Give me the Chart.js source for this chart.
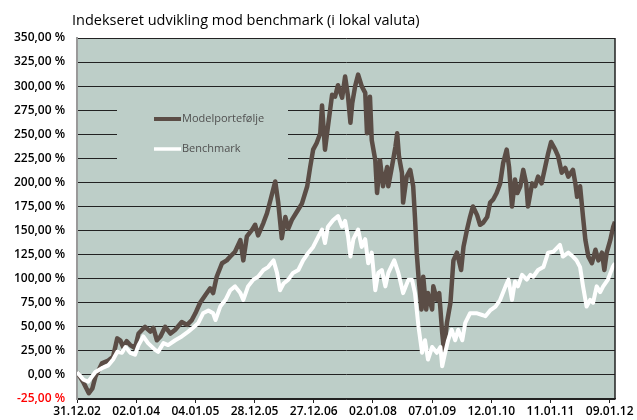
<!DOCTYPE html>
<html>
<head>
<meta charset="utf-8">
<script src="https://cdn.jsdelivr.net/npm/chart.js@4/dist/chart.umd.min.js"></script>
<style>
  body { margin: 0; background: #fff; }
  canvas { display: block; }
</style>
</head>
<body>
<canvas id="chart" width="637" height="420"></canvas>
<script>
// tick labels on the time axis (one per year)
const tickLabels = ['31.12.02', '02.01.04', '04.01.05', '28.12.05', '27.12.06',
                    '02.01.08', '07.01.09', '12.01.10', '11.01.11', '09.01.12'];

// time in years since 31.12.02, value in % (indexed)
const modelT = [0.00, 0.11, 0.20, 0.26, 0.31, 0.42, 0.53, 0.61, 0.68, 0.73, 0.78, 0.84, 0.90, 0.98,
  1.04, 1.15, 1.24, 1.29, 1.35, 1.41, 1.49, 1.58, 1.66, 1.77, 1.86, 1.94, 2.00, 2.08, 2.17, 2.25,
  2.30, 2.36, 2.45, 2.53, 2.59, 2.67, 2.76, 2.81, 2.87, 2.96, 3.01, 3.06, 3.15, 3.21, 3.27, 3.35,
  3.40, 3.46, 3.52, 3.57, 3.63, 3.72, 3.80, 3.89, 3.94, 3.99, 4.05, 4.11, 4.14, 4.19, 4.24, 4.31,
  4.36, 4.41, 4.48, 4.53, 4.58, 4.62, 4.65, 4.70, 4.75, 4.81, 4.87, 4.90, 4.95, 4.98, 5.04, 5.07,
  5.12, 5.17, 5.24, 5.26, 5.32, 5.38, 5.41, 5.44, 5.49, 5.51, 5.57, 5.63, 5.68, 5.71, 5.74, 5.77,
  5.82, 5.85, 5.90, 5.93, 6.00, 6.02, 6.08, 6.12, 6.17, 6.20, 6.25, 6.31, 6.36, 6.42, 6.49, 6.53,
  6.59, 6.64, 6.69, 6.76, 6.81, 6.86, 6.93, 6.98, 7.03, 7.09, 7.15, 7.20, 7.26, 7.30, 7.35, 7.40,
  7.44, 7.49, 7.54, 7.59, 7.62, 7.69, 7.74, 7.79, 7.85, 7.91, 7.96, 8.01, 8.08, 8.13, 8.19, 8.25,
  8.30, 8.38, 8.42, 8.45, 8.50, 8.55, 8.59, 8.64, 8.70, 8.76, 8.81, 8.87, 8.91, 8.95, 9.01, 9.06, 9.09];
const modelValues = [3, -8, -19, -14, -2, 12, 15, 19, 38, 36, 29, 35, 31, 28,
  43, 50, 45, 49, 36, 40, 50, 43, 47, 55, 52, 57, 64, 75, 83, 90,
  85, 102, 116, 119, 123, 128, 140, 119, 144, 151, 156, 145, 158, 168, 182, 201,
  179, 142, 164, 152, 161, 170, 178, 196, 216, 234, 241, 251, 280, 234, 258, 291,
  289, 301, 288, 310, 289, 262, 282, 300, 312, 300, 293, 251, 289, 244, 223, 189,
  223, 196, 216, 196, 216, 237, 251, 227, 210, 179, 206, 213, 196, 164, 127, 102,
  68, 102, 68, 85, 68, 92, 78, 85, 44, 26, 54, 75, 119, 127, 109, 133,
  151, 164, 175, 166, 156, 158, 164, 179, 182, 189, 199, 220, 234, 216, 175, 203,
  189, 196, 213, 199, 175, 199, 196, 206, 199, 216, 230, 242, 234, 227, 210, 215,
  206, 213, 199, 185, 196, 164, 140, 123, 116, 130, 119, 127, 109, 127, 140, 154, 159];

const benchT = [0.00, 0.11, 0.19, 0.25, 0.31, 0.42, 0.53, 0.61, 0.68, 0.76, 0.82, 0.90, 0.98,
  1.04, 1.12, 1.20, 1.32, 1.37, 1.46, 1.54, 1.66, 1.77, 1.88, 1.96, 2.05, 2.13, 2.22, 2.30, 2.34,
  2.42, 2.51, 2.59, 2.67, 2.76, 2.81, 2.89, 2.98, 3.06, 3.15, 3.23, 3.32, 3.38, 3.43, 3.49, 3.57,
  3.65, 3.74, 3.82, 3.91, 3.99, 4.08, 4.14, 4.19, 4.24, 4.33, 4.41, 4.48, 4.53, 4.58, 4.62, 4.67,
  4.75, 4.81, 4.87, 4.92, 4.98, 5.04, 5.09, 5.15, 5.21, 5.26, 5.36, 5.43, 5.51, 5.60, 5.66, 5.71,
  5.77, 5.83, 5.88, 5.93, 6.00, 6.08, 6.14, 6.17, 6.22, 6.27, 6.33, 6.39, 6.44, 6.51, 6.56, 6.64,
  6.76, 6.86, 6.90, 6.98, 7.07, 7.15, 7.24, 7.29, 7.35, 7.40, 7.45, 7.52, 7.60, 7.66, 7.71, 7.79,
  7.88, 7.96, 8.05, 8.16, 8.21, 8.30, 8.38, 8.44, 8.50, 8.55, 8.61, 8.67, 8.72, 8.78, 8.84, 8.89,
  8.97, 9.05, 9.09];
const benchValues = [3, -5, -7, -2, 3, 7, 10, 16, 24, 23, 29, 23, 21,
  31, 40, 33, 26, 24, 33, 31, 36, 40, 45, 49, 54, 64, 67, 64, 57,
  71, 78, 88, 92, 85, 78, 92, 99, 102, 109, 112, 119, 106, 88, 95, 99,
  106, 109, 119, 127, 133, 144, 151, 137, 154, 161, 165, 154, 160, 144, 123, 141,
  151, 133, 141, 116, 127, 88, 106, 109, 92, 106, 119, 106, 85, 99, 99, 85,
  50, 23, 36, 16, 29, 23, 29, 9, 23, 36, 47, 36, 47, 36, 54, 64,
  64, 62, 61, 67, 71, 78, 92, 99, 78, 97, 92, 104, 99, 104, 102, 109,
  112, 127, 128, 135, 123, 127, 123, 119, 112, 92, 71, 78, 75, 92, 86, 92,
  99, 112, 116];

const seriesNames = ['Modelportefølje', 'Benchmark'];
const titleText = 'Indekseret udvikling mod benchmark (i lokal valuta)';

const plotBg = '#bdcec8';
const modelColor = '#5b4d46';
const benchColor = '#ffffff';

function toPoints(ts, vs) {
    return ts.map((t, i) => ({ x: t, y: vs[i] }));
}

const decorPlugin = {
    id: 'decor',
    beforeDraw(chart) {
        const { ctx, chartArea: a } = chart;
        ctx.save();
        ctx.fillStyle = plotBg;
        ctx.fillRect(a.left, a.top, a.right - a.left, a.bottom - a.top);
        ctx.fillStyle = '#000';
        ctx.font = '500 14.5px "Open Sans", sans-serif';
        ctx.textBaseline = 'alphabetic';
        ctx.fillText(titleText, 72, 25);
        ctx.restore();
    },
    beforeDatasetsDraw(chart) {
        // legend box sits inside the plot and hides the grid lines behind it
        const { ctx } = chart;
        ctx.save();
        ctx.fillStyle = plotBg;
        ctx.fillRect(117, 96, 171, 72);
        ctx.lineCap = 'butt';
        ctx.lineWidth = 4;
        ctx.strokeStyle = modelColor;
        ctx.beginPath(); ctx.moveTo(154, 119); ctx.lineTo(181, 119); ctx.stroke();
        ctx.lineWidth = 3.5;
        ctx.strokeStyle = benchColor;
        ctx.beginPath(); ctx.moveTo(154, 149); ctx.lineTo(181, 149); ctx.stroke();
        ctx.fillStyle = '#505050';
        ctx.font = '11px "Open Sans", sans-serif';
        ctx.textBaseline = 'middle';
        ctx.fillText(seriesNames[0], 182, 119);
        ctx.fillText(seriesNames[1], 182, 149);
        ctx.restore();
    },
    afterDraw(chart) {
        const { ctx, chartArea: a } = chart;
        ctx.save();
        ctx.strokeStyle = '#222';
        ctx.lineWidth = 1.5;
        ctx.beginPath();
        ctx.moveTo(a.right, a.top); ctx.lineTo(a.right, a.bottom);
        ctx.stroke();
        ctx.restore();
    }
};

new Chart(document.getElementById('chart').getContext('2d'), {
    type: 'line',
    data: {
        datasets: [{
            label: seriesNames[1],
            data: toPoints(benchT, benchValues),
            borderColor: benchColor,
            borderWidth: 4,
            pointRadius: 0,
            tension: 0,
            borderJoinStyle: 'round',
            order: 0,
        }, {
            label: seriesNames[0],
            data: toPoints(modelT, modelValues),
            borderColor: modelColor,
            borderWidth: 4.5,
            pointRadius: 0,
            tension: 0,
            borderJoinStyle: 'round',
            order: 1,
        }],
    },
    options: {
        responsive: false,
        animation: false,
        layout: { padding: { top: 38, right: 22, left: 0, bottom: 0 } },
        plugins: {
            legend: { display: false },
            tooltip: { enabled: false },
        },
        scales: {
            x: {
                type: 'linear',
                min: 0,
                max: 9.09,
                afterBuildTicks(scale) {
                    scale.ticks = tickLabels.map((l, i) => ({ value: i }));
                },
                afterFit(scale) { scale.height = 21; },
                ticks: {
                    autoSkip: false,
                    maxRotation: 0,
                    padding: 1,
                    color: '#000',
                    font: { family: 'Open Sans', size: 12, weight: '600' },
                    callback: (v, i) => tickLabels[i],
                },
                grid: { drawOnChartArea: false, drawTicks: true, tickLength: 4, color: '#222' },
                border: { color: '#222', width: 1.5 },
            },
            y: {
                min: -25,
                max: 350,
                afterBuildTicks(scale) {
                    const t = [];
                    for (let v = -25; v <= 350; v += 25) t.push({ value: v });
                    scale.ticks = t;
                },
                afterFit(scale) { scale.width = 77; },
                ticks: {
                    padding: 12,
                    color: (c) => (c.tick && c.tick.value < 0 ? '#ff0000' : '#000'),
                    font: { family: 'Open Sans', size: 12, weight: '600' },
                    callback: (v) => v.toFixed(2).replace('.', ',') + ' %',
                },
                grid: { drawTicks: false, color: '#222', lineWidth: 1 },
                border: { color: '#9a9a9a', width: 2 },
            },
        },
    },
    plugins: [decorPlugin],
});
</script>
</body>
</html>
